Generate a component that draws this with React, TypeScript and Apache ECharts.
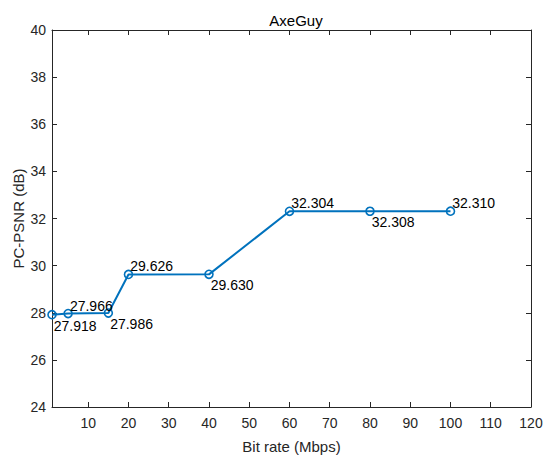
import React, { useEffect, useRef } from "react";
import * as echarts from "echarts";

const bitRates = [1, 5, 15, 20, 40, 60, 80, 100];
const psnr = [27.918, 27.966, 27.986, 29.626, 29.63, 32.304, 32.308, 32.31];
const labelAbove = [false, true, false, true, false, true, false, true];
const xTicks = [10, 20, 30, 40, 50, 60, 70, 80, 90, 100, 110, 120];

const AX = "#262626";
const FONT = "Liberation Sans, Arial, sans-serif";

export default function App() {
  const ref = useRef<HTMLDivElement>(null);
  useEffect(() => {
    if (!ref.current) return;
    const chart = echarts.init(ref.current, null, { renderer: "svg" });
    const data = bitRates.map((x, i) => ({
      value: [x, psnr[i]],
      label: {
        show: true,
        formatter: psnr[i].toFixed(3),
        position: "right" as const,
        distance: 0,
        offset: labelAbove[i] ? [-3, -8] : [-3, 11],
        color: "#000",
        fontSize: 14,
        fontFamily: FONT,
      },
    }));
    const commonX = {
      type: "value" as const,
      min: 1,
      max: 120,
      axisLine: { show: true, lineStyle: { color: AX, width: 1 } },
      splitLine: { show: false },
    };
    const commonY = {
      type: "value" as const,
      min: 24,
      max: 40,
      interval: 2,
      axisLine: { show: true, lineStyle: { color: AX, width: 1 } },
      splitLine: { show: false },
    };
    chart.setOption({
      animation: false,
      backgroundColor: "#fff",
      title: {
        text: "AxeGuy",
        left: 291,
        top: 8,
        textAlign: "center",
        textStyle: { fontSize: 15, fontWeight: "normal", color: "#000", fontFamily: FONT },
      },
      grid: { left: 52, right: 12, top: 30, bottom: 53, containLabel: false, outerBoundsMode: "none" },
      xAxis: [
        {
          ...commonX,
          position: "bottom",
          name: "Bit rate (Mbps)",
          nameLocation: "middle",
          nameGap: 32,
          nameMoveOverlap: false,
          nameTextStyle: { fontSize: 15, color: AX, fontFamily: FONT },
          axisTick: { show: true, inside: true, length: 5, customValues: xTicks, lineStyle: { color: AX } },
          axisLabel: { show: true, customValues: xTicks, fontSize: 14, color: AX, fontFamily: FONT, margin: 9 },
        },
        {
          ...commonX,
          position: "top",
          axisTick: { show: true, inside: true, length: 5, customValues: xTicks, lineStyle: { color: AX } },
          axisLabel: { show: false },
        },
      ],
      yAxis: [
        {
          ...commonY,
          position: "left",
          name: "PC-PSNR (dB)",
          nameLocation: "middle",
          nameGap: 26,
          nameMoveOverlap: false,
          nameTextStyle: { fontSize: 15, color: AX, fontFamily: FONT },
          axisTick: { show: true, inside: true, length: 5, lineStyle: { color: AX } },
          axisLabel: { show: true, fontSize: 14, color: AX, fontFamily: FONT, margin: 6 },
        },
        {
          ...commonY,
          position: "right",
          axisTick: { show: true, inside: true, length: 5, lineStyle: { color: AX } },
          axisLabel: { show: false },
        },
      ],
      series: [
        {
          type: "line",
          xAxisIndex: 0,
          yAxisIndex: 0,
          data,
          symbol: "circle",
          symbolSize: 8,
          showAllSymbol: true,
          lineStyle: { color: "#0072BD", width: 2 },
          itemStyle: { color: "rgba(0,0,0,0)", borderColor: "#0072BD", borderWidth: 1.6 },
          emphasis: { disabled: true },
        },
      ],
    });
    return () => chart.dispose();
  }, []);
  return <div ref={ref} style={{ width: 543, height: 460, position: "absolute", left: 0, top: 0 }} />;
}
